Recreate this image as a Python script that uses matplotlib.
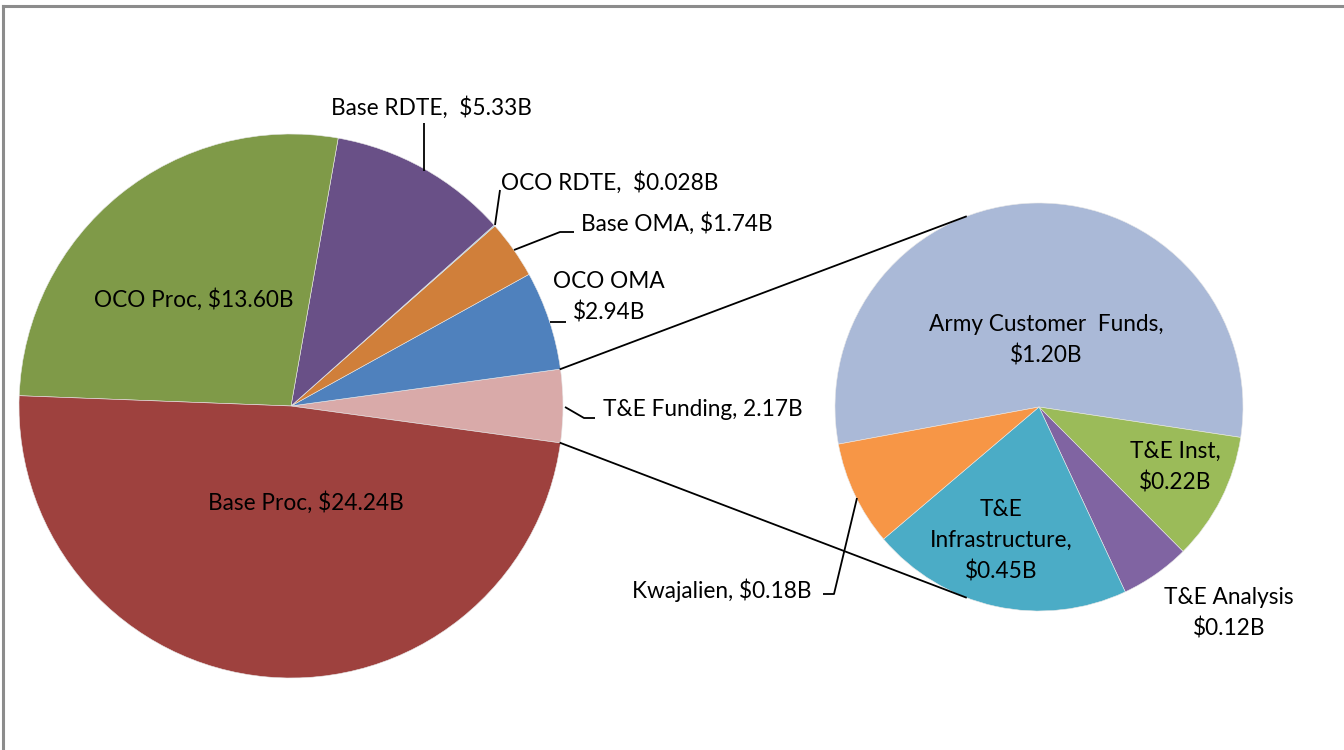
import matplotlib
matplotlib.use("Agg")
import matplotlib.pyplot as plt
import numpy as np

plt.rcParams['font.family'] = ['Lato', 'DejaVu Sans']

# ---- data ----
main_labels = ["T&E Funding", "OCO OMA", "Base OMA", "OCO RDTE", "Base RDTE", "OCO Proc", "Base Proc"]
main_values = [2.17, 2.94, 1.74, 0.028, 5.33, 13.60, 24.24]
main_colors = ["#D9AAA9", "#4F81BD", "#D07F3A", "#4BACC6", "#695087", "#7F9A48", "#9E413E"]

sub_labels = ["Army Customer Funds", "T&E Inst", "T&E Analysis", "T&E Infrastructure", "Kwajalien"]
sub_values = [1.20, 0.22, 0.12, 0.45, 0.18]
sub_colors = ["#AAB9D7", "#9BBB59", "#8064A2", "#4BACC6", "#F79646"]

main_texts = ["T&E Funding, 2.17B", "OCO OMA\n$2.94B", "Base OMA, $1.74B", "OCO RDTE,  $0.028B",
              "Base RDTE,  $5.33B", "OCO Proc, $13.60B", "Base Proc, $24.24B"]
sub_texts = ["Army Customer  Funds,\n$1.20B", "T&E Inst,\n$0.22B", "T&E Analysis\n$0.12B",
             "T&E\nInfrastructure,\n$0.45B", "Kwajalien, $0.18B"]

W, H = 1344, 750
fig = plt.figure(figsize=(W / 100, H / 100), dpi=100)
ax = fig.add_axes([0, 0, 1, 1])

def Y(y):
    return H - y

c1 = (291, Y(406)); r1 = 272
c2 = (1039, Y(407)); r2 = 204

total = sum(main_values)
start1 = -360 * main_values[0] / total / 2
ax.pie(main_values, colors=main_colors, startangle=start1, counterclock=True,
       center=c1, radius=r1, wedgeprops=dict(edgecolor='#e8e8e8', linewidth=0.4), frame=True)
ax.pie(sub_values, colors=sub_colors, startangle=190.5, counterclock=False,
       center=c2, radius=r2, wedgeprops=dict(edgecolor='#e8e8e8', linewidth=0.4), frame=True)
ax.set_xlim(0, W)
ax.set_ylim(0, H)
ax.set_aspect('equal')
ax.axis('off')

# connector lines
for sgn in (1, -1):
    a1 = np.deg2rad(sgn * abs(start1))
    a2 = np.deg2rad(sgn * 111)
    ax.plot([c1[0] + r1 * np.cos(a1), c2[0] + r2 * np.cos(a2)],
            [c1[1] + r1 * np.sin(a1), c2[1] + r2 * np.sin(a2)], color='black', lw=1.3, zorder=5)

fs = 16.3
ls = 1.55
main_pos = [(703, 410), (609, 297), (677, 224), (610, 183), (431, 108), (194, 300), (306, 503)]
sub_pos = [(1046, 340), (1175, 467), (1229, 613), (1001, 541), (722, 590)]
for t, (x, y) in zip(main_texts, main_pos):
    ax.text(x, Y(y), t, ha='center', va='center', fontsize=fs, linespacing=ls, color='black', zorder=6)
for t, (x, y) in zip(sub_texts, sub_pos):
    ax.text(x, Y(y), t, ha='center', va='center', fontsize=fs, linespacing=ls, color='black', zorder=6)

# leader lines
leaders = [
    [(424, 123), (424, 171)],
    [(500, 190), (495, 225)],
    [(514, 250), (560, 232), (574, 232)],
    [(550, 322), (566, 322)],
    [(565, 407), (584, 418), (595, 418)],
    [(857, 498), (834, 594), (823, 594)],
]
for pts in leaders:
    xs = [p[0] for p in pts]
    ys = [Y(p[1]) for p in pts]
    ax.plot(xs, ys, color='black', lw=1.3, zorder=5, solid_capstyle='butt')

# chart border (top & left visible)
ax.plot([2.5, W], [Y(6), Y(6)], color='#8c8c8c', lw=2.2, zorder=7, clip_on=False)
ax.plot([2.5, 2.5], [Y(6), 0], color='#8c8c8c', lw=2.2, zorder=7, clip_on=False)

fig.savefig("out.png", dpi=100, facecolor='white')
